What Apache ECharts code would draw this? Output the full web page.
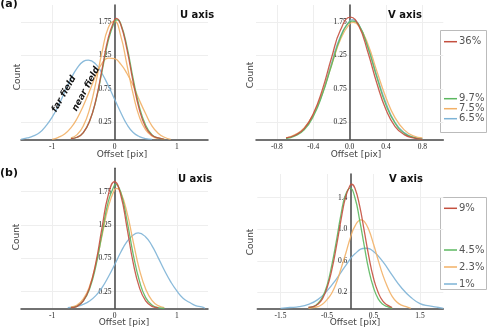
<!DOCTYPE html>
<html>
<head>
<meta charset="utf-8">
<script src="https://cdn.jsdelivr.net/npm/echarts@6/dist/echarts.min.js"></script>
<style>html,body{margin:0;background:#fff}#chart{width:492px;height:328px}</style>
</head>
<body>
<div id="chart"></div>
<script>
// (a) U axis curves [offset, count]
const aU36 = [[-0.7,0.01],[-0.6,0.03],[-0.5,0.10],[-0.4,0.27],[-0.3,0.58],[-0.2,1.04],[-0.1,1.51],[0,1.78],[0.03,1.80],[0.1,1.71],[0.2,1.34],[0.3,0.85],[0.4,0.44],[0.5,0.18],[0.6,0.06],[0.7,0.02],[0.8,0]];
const aU97 = [[-0.7,0.01],[-0.6,0.03],[-0.5,0.10],[-0.4,0.27],[-0.3,0.57],[-0.2,1.01],[-0.1,1.47],[0,1.75],[0.04,1.78],[0.1,1.72],[0.2,1.38],[0.3,0.90],[0.4,0.48],[0.5,0.21],[0.6,0.07],[0.7,0.02],[0.8,0]];
const aU75 = [[-1.0,0],[-0.9,0.03],[-0.8,0.08],[-0.7,0.17],[-0.6,0.31],[-0.5,0.50],[-0.4,0.72],[-0.3,0.95],[-0.2,1.13],[-0.1,1.21],[0,1.20],[0.1,1.12],[0.2,0.98],[0.3,0.80],[0.4,0.58],[0.5,0.38],[0.6,0.20],[0.7,0.09],[0.8,0.03],[0.9,0]];
const aU75b = [[-0.7,0.02],[-0.6,0.07],[-0.5,0.20],[-0.4,0.45],[-0.3,0.84],[-0.2,1.30],[-0.1,1.66],[0,1.76],[0.1,1.54],[0.2,1.11],[0.3,0.67],[0.4,0.33],[0.5,0.14],[0.6,0.05],[0.7,0.01]];
const aU65 = [[-1.5,0],[-1.4,0.02],[-1.3,0.05],[-1.2,0.10],[-1.1,0.20],[-1.0,0.33],[-0.9,0.50],[-0.8,0.70],[-0.7,0.90],[-0.6,1.06],[-0.5,1.16],[-0.42,1.18],[-0.3,1.12],[-0.2,0.98],[-0.1,0.80],[0,0.60],[0.1,0.40],[0.2,0.22],[0.3,0.10],[0.4,0.04],[0.5,0.01],[0.6,0]];
// (a) V axis curves
const aV36 = [[-0.7,0.02],[-0.6,0.06],[-0.5,0.16],[-0.4,0.38],[-0.3,0.74],[-0.2,1.21],[-0.1,1.63],[0.01,1.82],[0.1,1.69],[0.2,1.30],[0.3,0.83],[0.4,0.44],[0.5,0.19],[0.6,0.07],[0.7,0.02],[0.8,0]];
const aV97 = [[-0.7,0.01],[-0.6,0.05],[-0.5,0.14],[-0.4,0.34],[-0.3,0.67],[-0.2,1.10],[-0.1,1.52],[0,1.75],[0.03,1.76],[0.1,1.71],[0.2,1.37],[0.3,0.92],[0.4,0.51],[0.5,0.24],[0.6,0.09],[0.7,0.03],[0.8,0]];
const aV75 = [[-0.7,0.02],[-0.6,0.07],[-0.5,0.17],[-0.4,0.37],[-0.3,0.69],[-0.2,1.10],[-0.1,1.49],[0,1.72],[0.04,1.74],[0.1,1.69],[0.2,1.42],[0.3,1.01],[0.4,0.62],[0.5,0.32],[0.6,0.14],[0.7,0.05],[0.8,0.02]];
const aV65 = [[-0.7,0.02],[-0.6,0.06],[-0.5,0.16],[-0.4,0.36],[-0.3,0.68],[-0.2,1.13],[-0.1,1.54],[0,1.76],[0.03,1.78],[0.1,1.71],[0.2,1.38],[0.3,0.94],[0.4,0.54],[0.5,0.25],[0.6,0.10],[0.7,0.03],[0.8,0.01]];
// (b) U axis curves
const bU9 = [[-0.7,0.01],[-0.6,0.03],[-0.5,0.11],[-0.4,0.31],[-0.3,0.68],[-0.2,1.21],[-0.1,1.70],[0,1.90],[0.1,1.70],[0.2,1.21],[0.3,0.68],[0.4,0.31],[0.5,0.11],[0.6,0.03],[0.7,0.01]];
const bU45 = [[-0.7,0.01],[-0.6,0.03],[-0.5,0.11],[-0.4,0.29],[-0.3,0.63],[-0.2,1.12],[-0.1,1.60],[0,1.85],[0.02,1.86],[0.1,1.74],[0.2,1.32],[0.3,0.81],[0.4,0.41],[0.5,0.16],[0.6,0.05],[0.7,0.01],[0.8,0]];
const bU23 = [[-0.7,0.02],[-0.6,0.05],[-0.5,0.14],[-0.4,0.33],[-0.3,0.66],[-0.2,1.09],[-0.1,1.52],[0,1.78],[0.04,1.80],[0.1,1.74],[0.2,1.44],[0.3,1.00],[0.4,0.58],[0.5,0.29],[0.6,0.12],[0.7,0.04],[0.8,0.01]];
const bU1 = [[-0.75,0.01],[-0.6,0.03],[-0.5,0.06],[-0.4,0.11],[-0.3,0.19],[-0.2,0.31],[-0.1,0.47],[0,0.65],[0.1,0.84],[0.2,1.00],[0.3,1.10],[0.38,1.13],[0.5,1.07],[0.6,0.94],[0.7,0.76],[0.8,0.57],[0.9,0.40],[1.0,0.26],[1.1,0.15],[1.2,0.09],[1.3,0.04],[1.4,0.02],[1.45,0]];
// (b) V axis curves
const bV9 = [[-0.9,0.01],[-0.8,0.02],[-0.7,0.05],[-0.6,0.12],[-0.5,0.26],[-0.4,0.48],[-0.3,0.78],[-0.2,1.12],[-0.1,1.41],[0,1.56],[0.03,1.57],[0.1,1.52],[0.2,1.30],[0.3,0.98],[0.4,0.65],[0.5,0.38],[0.6,0.20],[0.7,0.09],[0.8,0.04],[0.9,0.01]];
const bV45 = [[-0.9,0.01],[-0.8,0.02],[-0.7,0.06],[-0.6,0.14],[-0.5,0.29],[-0.4,0.54],[-0.3,0.85],[-0.2,1.19],[-0.1,1.44],[0,1.52],[0.1,1.40],[0.2,1.12],[0.3,0.79],[0.4,0.48],[0.5,0.26],[0.6,0.12],[0.7,0.05],[0.8,0.02],[0.9,0]];
const bV23 = [[-0.9,0],[-0.8,0.01],[-0.7,0.02],[-0.6,0.05],[-0.5,0.11],[-0.4,0.19],[-0.3,0.32],[-0.2,0.50],[-0.1,0.69],[0,0.89],[0.1,1.04],[0.23,1.12],[0.3,1.10],[0.4,0.99],[0.5,0.81],[0.6,0.61],[0.7,0.42],[0.8,0.27],[0.9,0.15],[1.0,0.08],[1.1,0.04],[1.2,0.02],[1.3,0]];
const bV1 = [[-1.5,0],[-1.3,0.01],[-1.1,0.02],[-0.9,0.05],[-0.7,0.11],[-0.5,0.22],[-0.3,0.37],[-0.1,0.54],[0.1,0.69],[0.33,0.76],[0.5,0.72],[0.7,0.59],[0.9,0.42],[1.1,0.26],[1.3,0.14],[1.5,0.06],[1.7,0.03],[1.9,0.01],[2.0,0]];

// tick values
const xTicksAU = [-1, 0, 1];
const xTicksAV = [-0.8, -0.4, 0, 0.4, 0.8];
const xTicksBU = [-1, 0, 1];
const xTicksBV = [-1.5, -0.5, 0.5, 1.5];
const yTicksA = [0.25, 0.75, 1.25, 1.75];
const yTicksBV = [0.2, 0.6, 1.0, 1.4];

const legendA = ['36%', '9.7%', '7.5%', '6.5%'];
const legendB = ['9%', '4.5%', '2.3%', '1%'];

const RED = '#c4503f', GREEN = '#5cb860', ORANGE = '#f2b066', BLUE = '#7db3d6';

const tickFont = { fontSize: 7.5, color: '#222', fontFamily: 'Liberation Serif' };

function xAxis(idx, min, max, ticks, fmt) {
  return {
    type: 'value', gridIndex: idx, min: min, max: max,
    axisLine: { onZero: true, lineStyle: { color: '#444', width: 1.5 } },
    axisTick: { show: false, customValues: ticks },
    axisLabel: Object.assign({ customValues: ticks, margin: 4, formatter: fmt }, tickFont),
    splitLine: { show: true, lineStyle: { color: '#eeeeee', width: 1 } }
  };
}
// y axis sits on x = 0; offset moves it from the grid's left edge
function yAxis(idx, max, ticks, shift, fmt) {
  return {
    type: 'value', gridIndex: idx, min: 0, max: max, position: 'left', offset: -shift,
    axisLine: { show: true, onZero: false, lineStyle: { color: '#444', width: 1.5 } },
    axisTick: { show: false, customValues: ticks },
    axisLabel: Object.assign({ customValues: ticks, margin: 3, formatter: fmt }, tickFont),
    splitLine: { show: true, lineStyle: { color: '#eeeeee', width: 1 } }
  };
}
function curve(name, data, idx, color) {
  return {
    name: name, type: 'line', xAxisIndex: idx, yAxisIndex: idx, data: data,
    smooth: true, showSymbol: false, symbol: 'none',
    lineStyle: { color: color, width: 1.3, opacity: 0.9 }, itemStyle: { color: color }
  };
}
function txt(t, x, y, font, rot, color) {
  return {
    type: 'text', x: x, y: y, rotation: rot || 0, z: 100,
    style: { text: t, x: 0, y: 0, font: font, fill: color || '#444', align: 'center', verticalAlign: 'middle',
      textAlign: 'center', textVerticalAlign: 'middle' }
  };
}
function legend(names, top, lh, gap) {
  return {
    data: names, left: 444, top: top, orient: 'vertical', padding: 0, itemGap: gap,
    icon: 'rect', itemWidth: 13, itemHeight: 1.5, selectedMode: false,
    textStyle: { fontSize: 10, color: '#555', lineHeight: lh, fontFamily: 'DejaVu Sans', padding: [0, 0, 0, -3] }
  };
}

const fmt1 = v => v.toFixed(1);
const lab = '9px DejaVu Sans';
const ttl = 'bold 10px DejaVu Sans';

const option = {
  animation: false,
  grid: [
    { left: 21, top: 5, width: 187, height: 134.3 },
    { left: 256, top: 5, width: 187.3, height: 134.3 },
    { left: 21, top: 168.3, width: 187, height: 140 },
    { left: 257.3, top: 174, width: 186, height: 134.3 }
  ],
  xAxis: [
    xAxis(0, -1.5, 1.5, xTicksAU),
    xAxis(1, -1.03, 1.03, xTicksAV, fmt1),
    xAxis(2, -1.5, 1.5, xTicksBU),
    xAxis(3, -2, 2, xTicksBV, fmt1)
  ],
  yAxis: [
    yAxis(0, 2, yTicksA, 93.5),
    yAxis(1, 2, yTicksA, 93.65),
    yAxis(2, 2.1, yTicksA, 93.5),
    yAxis(3, 1.7, yTicksBV, 93, fmt1)
  ],
  legend: [
    legend(['36%'], 36.2, 11, 0),
    legend(['9.7%', '7.5%', '6.5%'], 93.7, 9.2, 0),
    legend(['9%'], 202.8, 11, 0),
    legend(['4.5%', '2.3%', '1%'], 244.5, 11, 6)
  ],
  series: [
    curve('6.5%', aU65, 0, BLUE),
    curve('7.5%', aU75, 0, ORANGE),
    curve('7.5%', aU75b, 0, ORANGE),
    curve('9.7%', aU97, 0, GREEN),
    curve('36%', aU36, 0, RED),
    curve('6.5%', aV65, 1, BLUE),
    curve('7.5%', aV75, 1, ORANGE),
    curve('9.7%', aV97, 1, GREEN),
    curve('36%', aV36, 1, RED),
    curve('1%', bU1, 2, BLUE),
    curve('2.3%', bU23, 2, ORANGE),
    curve('4.5%', bU45, 2, GREEN),
    curve('9%', bU9, 2, RED),
    curve('1%', bV1, 3, BLUE),
    curve('2.3%', bV23, 3, ORANGE),
    curve('4.5%', bV45, 3, GREEN),
    curve('9%', bV9, 3, RED)
  ],
  graphic: [
    { type: 'rect', shape: { x: 440.5, y: 30.5, width: 46, height: 102 }, style: { fill: 'none', stroke: '#bbb', lineWidth: 1 } },
    { type: 'rect', shape: { x: 440.5, y: 197.5, width: 46, height: 92 }, style: { fill: 'none', stroke: '#bbb', lineWidth: 1 } },
    txt('(a)', 9, 4, 'bold 11px DejaVu Sans', 0, '#111'),
    txt('(b)', 9, 173, 'bold 11px DejaVu Sans', 0, '#111'),
    txt('U axis', 197, 15, ttl, 0, '#111'),
    txt('V axis', 405, 15, ttl, 0, '#111'),
    txt('U axis', 195, 179, ttl, 0, '#111'),
    txt('V axis', 406, 179, ttl, 0, '#111'),
    txt('Offset [pix]', 122, 155, lab),
    txt('Offset [pix]', 356, 155, lab),
    txt('Offset [pix]', 124, 323, lab),
    txt('Offset [pix]', 355, 323, lab),
    txt('Count', 18, 77, lab, Math.PI / 2),
    txt('Count', 251, 75, lab, Math.PI / 2),
    txt('Count', 17, 237, lab, Math.PI / 2),
    txt('Count', 251, 242, lab, Math.PI / 2),
    txt('far field', 64, 94, 'italic bold 9px DejaVu Sans', 1.05, '#111'),
    txt('near field', 86, 89, 'italic bold 9px DejaVu Sans', 1.08, '#111')
  ]
};

const chart = echarts.init(document.getElementById('chart'));
chart.setOption(option);
</script>
</body>
</html>
